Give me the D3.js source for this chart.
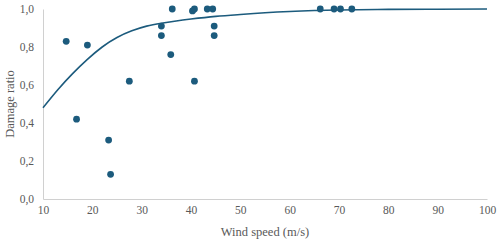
<!DOCTYPE html>
<html>
<head>
<meta charset="utf-8">
<script src="https://cdn.jsdelivr.net/npm/d3@7"></script>
<style>
  body { margin: 0; background: #fff; }
</style>
</head>
<body>
<figure id="chart" style="margin:0"></figure>
<script>
// observed points (wind speed, damage ratio)
const windSpeed = [14.7, 16.8, 19.0, 23.3, 23.7, 27.5, 34.0, 34.0, 35.9, 36.2, 40.3, 40.7, 40.7, 43.3, 44.4, 44.7, 44.7, 66.2, 69.0, 70.3, 72.6];
const damage    = [0.83, 0.42, 0.81, 0.31, 0.13, 0.62, 0.91, 0.86, 0.76, 1.0, 0.99, 1.0, 0.62, 1.0, 1.0, 0.91, 0.86, 1.0, 1.0, 1.0, 1.0];

// fitted curve
const curveX = [10, 13, 16, 19, 22, 25, 28, 31, 34, 37, 40, 45, 50, 55, 60, 65, 70, 80, 90, 100];
const curveY = [0.48, 0.575, 0.66, 0.735, 0.80, 0.85, 0.885, 0.91, 0.925, 0.937, 0.947, 0.961, 0.971, 0.98, 0.987, 0.992, 0.995, 0.998, 0.999, 1.0];

const xTicks = [10, 20, 30, 40, 50, 60, 70, 80, 90, 100];
const yTicks = [0, 0.2, 0.4, 0.6, 0.8, 1.0];

const W = 500, H = 243;
const mLeft = 43, mRight = 487, mTop = 9, mBottom = 199;
const color = '#1c5b7d';
const grey = '#595959';
const serif = "'Liberation Serif', serif";

const svg = d3.select('#chart').append('svg')
    .attr('width', W)
    .attr('height', H);

const x = d3.scaleLinear().domain([10, 100]).range([mLeft, mRight]);
const y = d3.scaleLinear().domain([0, 1]).range([mBottom, mTop]);

// axes
svg.append('g')
    .attr('transform', 'translate(0,' + mBottom + ')')
    .call(d3.axisBottom(x).tickValues(xTicks).tickSize(0).tickPadding(7))
    .call(g => g.select('.domain').attr('stroke', '#d0d0d0'))
    .selectAll('text')
    .style('font-family', serif)
    .attr('font-size', 11.5)
    .attr('fill', grey);

svg.append('g')
    .attr('transform', 'translate(' + mLeft + ',0)')
    .call(d3.axisLeft(y).tickValues(yTicks).tickSize(0).tickPadding(9)
        .tickFormat(d => d3.format('.1f')(d).replace('.', ',')))
    .call(g => g.select('.domain').attr('stroke', '#d0d0d0'))
    .selectAll('text')
    .style('font-family', serif)
    .attr('font-size', 11.5)
    .attr('fill', grey);

// axis titles
svg.append('text')
    .attr('x', (mLeft + mRight) / 2)
    .attr('y', 236)
    .attr('text-anchor', 'middle')
    .style('font-family', serif)
    .attr('font-size', 12.5)
    .attr('fill', grey)
    .text('Wind speed (m/s)');

svg.append('text')
    .attr('transform', 'translate(14,' + ((mTop + mBottom) / 2) + ')rotate(-90)')
    .attr('text-anchor', 'middle')
    .style('font-family', serif)
    .attr('font-size', 12.5)
    .attr('fill', grey)
    .text('Damage ratio');

// curve
const line = d3.line()
    .x(i => x(curveX[i]))
    .y(i => y(curveY[i]))
    .curve(d3.curveNatural);

svg.append('path')
    .attr('d', line(d3.range(curveX.length)))
    .attr('fill', 'none')
    .attr('stroke', color)
    .attr('stroke-width', 1.6);

// points
svg.selectAll('circle')
    .data(d3.range(windSpeed.length))
    .enter()
    .append('circle')
    .attr('cx', i => x(windSpeed[i]))
    .attr('cy', i => y(damage[i]))
    .attr('r', 3.4)
    .attr('fill', color);
</script>
</body>
</html>
